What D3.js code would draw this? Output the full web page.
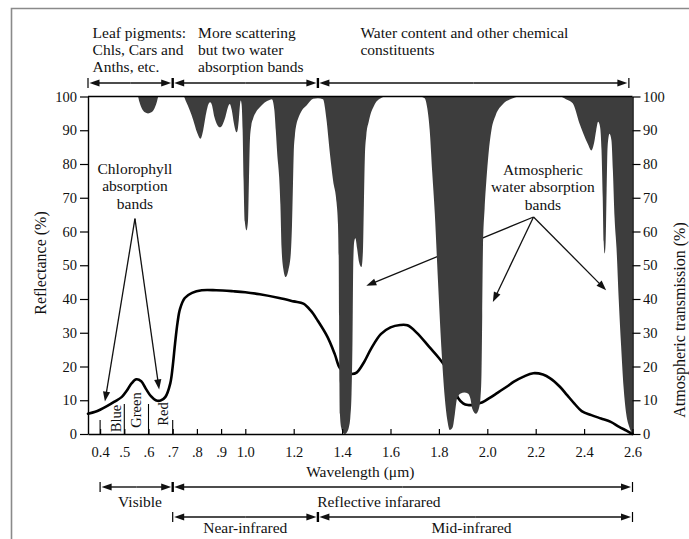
<!DOCTYPE html>
<html>
<head>
<meta charset="utf-8">
<script src="https://cdn.jsdelivr.net/npm/d3@7"></script>
<style>
  html, body { margin: 0; padding: 0; background: #fff; }
  svg { display: block; font-family: "Liberation Serif", "Times New Roman", serif; }
</style>
</head>
<body>
<svg id="chart" width="689" height="539"></svg>
<script>
// ---- axis ticks ----
const xTickValues = [0.4, 0.5, 0.6, 0.7, 0.8, 0.9, 1.0, 1.2, 1.4, 1.6, 1.8, 2.0, 2.2, 2.4, 2.6];
const xTickLabels = ["0.4", ".5", ".6", ".7", ".8", ".9", "1.0", "1.2", "1.4", "1.6", "1.8", "2.0", "2.2", "2.4", "2.6"];
const yTickValues = [0, 10, 20, 30, 40, 50, 60, 70, 80, 90, 100];

// ---- leaf reflectance (%) against wavelength (µm) ----
const reflWavelength = [0.35, 0.38, 0.40, 0.43, 0.46, 0.49, 0.51, 0.53, 0.55, 0.57, 0.59, 0.61, 0.63, 0.65, 0.67, 0.69,
  0.70, 0.71, 0.72, 0.73, 0.75, 0.78, 0.82, 0.88, 0.95, 1.00, 1.06, 1.14, 1.20, 1.24, 1.27, 1.30, 1.34, 1.37, 1.39,
  1.41, 1.44, 1.46, 1.49, 1.52, 1.56, 1.60, 1.64, 1.67, 1.71, 1.76, 1.80, 1.83, 1.86, 1.88, 1.90, 1.92, 1.94, 1.96,
  1.98, 2.01, 2.04, 2.08, 2.11, 2.15, 2.19, 2.23, 2.26, 2.30, 2.33, 2.36, 2.39, 2.43, 2.47, 2.51, 2.545, 2.575, 2.60];
const reflValue = [6.0, 6.6, 7.2, 8.3, 9.6, 11.0, 12.8, 15.0, 16.2, 15.6, 13.3, 11.2, 10.0, 9.9, 11.0, 15.0,
  20.0, 27.0, 33.0, 37.0, 40.3, 41.8, 42.6, 42.6, 42.3, 42.0, 41.4, 40.3, 39.3, 38.6, 36.6, 33.5, 28.7, 23.6, 19.6,
  18.3, 17.8, 18.2, 21.2, 25.3, 29.6, 31.6, 32.3, 32.2, 29.9, 25.8, 22.5, 19.5, 14.0, 10.6, 9.1, 8.6, 8.6, 9.0,
  9.4, 10.7, 12.1, 14.0, 15.5, 17.0, 18.0, 17.6, 16.5, 14.0, 11.5, 9.0, 6.8, 5.6, 4.6, 3.6, 2.1, 1.0, 0.0];

// ---- atmospheric transmission (%) against wavelength (µm) ----
const transWavelength = [0.35, 0.556, 0.562, 0.572, 0.585, 0.598, 0.612, 0.625, 0.635, 0.641,
  0.745, 0.755, 0.77, 0.785, 0.80, 0.815, 0.826, 0.838, 0.848, 0.855, 0.862, 0.872, 0.885, 0.895, 0.905, 0.918,
  0.93, 0.936, 0.944, 0.953, 0.96, 0.964, 0.968, 0.973, 0.978, 0.981, 0.985, 0.989, 0.993, 0.998, 1.005, 1.011,
  1.015, 1.019, 1.025, 1.032, 1.045, 1.06, 1.08, 1.10, 1.11,
  1.12, 1.126, 1.132, 1.14, 1.145, 1.15, 1.157, 1.167, 1.178, 1.188, 1.193, 1.197, 1.20, 1.205, 1.212, 1.218,
  1.235, 1.253, 1.28, 1.30, 1.321, 1.335, 1.349, 1.363, 1.377, 1.383, 1.386, 1.3875, 1.389, 1.391, 1.396, 1.404,
  1.412, 1.42, 1.428, 1.434, 1.439, 1.443, 1.446, 1.45, 1.455, 1.462, 1.47, 1.48, 1.486, 1.49, 1.494, 1.50, 1.51,
  1.52, 1.53, 1.542, 1.56, 1.58,
  1.72, 1.741, 1.752, 1.762, 1.772, 1.783, 1.796, 1.81, 1.824, 1.835, 1.845, 1.857, 1.866, 1.875, 1.89, 1.905,
  1.92, 1.93, 1.938, 1.953, 1.965, 1.972, 1.976, 1.979, 1.982, 1.989, 1.996, 2.005, 2.017, 2.035, 2.065, 2.10, 2.134,
  2.30, 2.325, 2.353, 2.381, 2.415, 2.43, 2.442, 2.45, 2.458, 2.466, 2.472, 2.477, 2.481, 2.485, 2.489, 2.493,
  2.497, 2.505, 2.513, 2.519, 2.526, 2.534, 2.543, 2.553, 2.563, 2.574, 2.587, 2.60];
const transValue = [100, 100, 98.5, 96.5, 95.3, 95, 95.3, 96.5, 98.5, 100,
  100, 98.5, 96, 93, 89.5, 87.5, 90, 95, 97.8, 98.3, 97.5, 94, 91.5, 90.9, 91.5, 94,
  97.2, 97.8, 96, 92, 89.8, 89.4, 90, 93, 97.5, 98.8, 97.5, 90, 75, 63, 60.4, 63,
  75, 87, 91.5, 93.4, 95.5, 96.8, 98.2, 99, 99.2,
  96, 90, 83, 76, 68, 55, 49, 46.5, 48.5, 53.5, 62, 74, 83, 88.5, 92, 93.4,
  96, 97.3, 99.3, 99.5, 99.2, 93.4, 83.5, 75, 68.7, 62, 52, 35, 15, 6, 2, 0.4,
  0, 0.5, 2, 5, 12, 28, 50, 57, 58, 55, 51, 49.5, 54, 68, 82, 88.5, 92.5,
  95.3, 97, 98.5, 99.5, 100,
  100, 99.5, 96.5, 90, 78, 65.4, 45.6, 25.8, 11, 4, 1.2, 2, 6, 10.5, 12, 12.3,
  12, 10.5, 7.5, 6, 7.5, 11, 18, 35, 55, 67, 75, 83, 90, 94.5, 97.8, 99.3, 100,
  100, 99.2, 98, 92, 86, 84, 86.5, 90, 92.5, 91, 84, 70, 57, 53.5, 57, 72,
  85, 89, 87, 78, 64, 55, 40, 26, 14, 6, 2, 0];

// ---- colour bands of the visible range ----
const colourNames = ["Blue", "Green", "Red"];
const colourEdges = [0.4, 0.5, 0.6, 0.7];

// ---- spectral regions (µm) ----
const topRegionEdges = [0.35, 0.7, 1.3, 2.585];
const topRegionText = [
  ["Leaf pigments:", "Chls, Cars and", "Anths, etc."],
  ["More scattering", "but two water", "absorption bands"],
  ["Water content and other chemical", "constituents"]
];
const visibleEdges = [0.4, 0.7, 2.6];
const visibleText = ["Visible", "Reflective infarared"];
const infraredEdges = [0.7, 1.3, 2.6];
const infraredText = ["Near-infrared", "Mid-infrared"];

// ---- callouts: label lines, arrow origin and arrow targets (µm, %) ----
const chlText = ["Chlorophyll", "absorption", "bands"];
const chlOrigin = [0.544, 63.8];
const chlTargets = [[0.42, 9.6], [0.644, 13.2]];
const waterText = ["Atmospheric", "water absorption", "bands"];
const waterOrigin = [2.191, 64.3];
const waterTargets = [[2.023, 39.1], [2.491, 42.6], [1.5, 43.9]];

// ================= drawing =================
const W = 689, H = 539;
const svg = d3.select("#chart");
const ink = "#111";
const bandFill = "#3d3d3d";

const x = d3.scaleLinear().domain([0.35, 2.6]).range([88, 632.5]);
const y = d3.scaleLinear().domain([0, 100]).range([434, 96.5]);

// outer picture border (top and left)
svg.append("path")
  .attr("d", `M11.5,${H} V8.5 H${W}`)
  .attr("fill", "none").attr("stroke", "#8a8a8a").attr("stroke-width", 1.6);

// reflectance curve
const refl = reflWavelength.map((w, i) => ({ w, v: reflValue[i] }));
const trans = transWavelength.map((w, i) => ({ w, v: transValue[i] }));

svg.append("path").datum(refl)
  .attr("d", d3.line().x(d => x(d.w)).y(d => y(d.v)).curve(d3.curveCatmullRom.alpha(0.5)))
  .attr("fill", "none").attr("stroke", "#000").attr("stroke-width", 2.6)
  .attr("stroke-linejoin", "round").attr("stroke-linecap", "round");

// arrow helper: line from p to q with a filled head at q
function arrow(g, x1, y1, x2, y2, len, half, width) {
  const dx = x2 - x1, dy = y2 - y1, L = Math.hypot(dx, dy);
  const ux = dx / L, uy = dy / L;
  const bx = x2 - ux * len, by = y2 - uy * len;
  g.append("line").attr("x1", x1).attr("y1", y1).attr("x2", bx + ux * 1).attr("y2", by + uy * 1)
    .attr("stroke", ink).attr("stroke-width", width);
  g.append("path")
    .attr("d", `M${x2},${y2}L${bx - uy * half},${by + ux * half}L${bx + uy * half},${by - ux * half}Z`)
    .attr("fill", ink);
}

// callout arrows (drawn beneath the absorption bands)
const callouts = svg.append("g");
chlTargets.forEach(t => arrow(callouts, x(chlOrigin[0]), y(chlOrigin[1]), x(t[0]), y(t[1]), 10, 3.6, 1.3));
waterTargets.forEach(t => arrow(callouts, x(waterOrigin[0]), y(waterOrigin[1]), x(t[0]), y(t[1]), 10, 3.6, 1.3));

// atmospheric absorption hanging from the 100 % line
svg.append("path").datum(trans)
  .attr("d", d3.area().x(d => x(d.w)).y0(y(100)).y1(d => y(d.v)).curve(d3.curveMonotoneX))
  .attr("fill", bandFill);

// plot frame top
svg.append("line").attr("x1", x(0.35)).attr("x2", x(2.6)).attr("y1", y(100)).attr("y2", y(100))
  .attr("stroke", "#000").attr("stroke-width", 1.4);

// axes
function styleAxis(g, size) {
  g.selectAll("path.domain").attr("stroke", "#000").attr("stroke-width", 1.4);
  g.selectAll(".tick line").attr("stroke", "#000").attr("stroke-width", 1.2);
  g.selectAll(".tick text").attr("fill", ink).style("font-size", size + "px")
    .style("font-family", '"Liberation Serif", "Times New Roman", serif');
}

const gx = svg.append("g").attr("transform", `translate(0,${y(0)})`)
  .call(d3.axisBottom(x).tickValues(xTickValues)
    .tickFormat(d => xTickLabels[xTickValues.indexOf(d)])
    .tickSizeInner(-5).tickSizeOuter(0).tickPadding(12.5));
styleAxis(gx, 14.5);

const gyl = svg.append("g").attr("transform", `translate(${x(0.35)},0)`)
  .call(d3.axisLeft(y).tickValues(yTickValues).tickSizeInner(8).tickSizeOuter(0).tickPadding(3));
styleAxis(gyl, 14.5);

const gyr = svg.append("g").attr("transform", `translate(${x(2.6)},0)`)
  .call(d3.axisRight(y).tickValues(yTickValues).tickSizeInner(8).tickSizeOuter(0).tickPadding(2.5));
styleAxis(gyr, 14.5);

// colour band separators and labels
const colourG = svg.append("g");
colourEdges.forEach((e, i) => {
  const inner = i > 0 && i < colourEdges.length - 1;
  colourG.append("line").attr("x1", x(e)).attr("x2", x(e))
    .attr("y1", y(0)).attr("y2", y(0) - (inner ? 30 : 14))
    .attr("stroke", "#000").attr("stroke-width", 1.1);
});
const colourShift = [9, 5, 7];
const colourMid = [418.5, 410, 414];
colourNames.forEach((name, i) => {
  const cx = x((colourEdges[i] + colourEdges[i + 1]) / 2) + colourShift[i];
  colourG.append("text")
    .attr("transform", `translate(${cx},${colourMid[i]}) rotate(-90)`)
    .attr("text-anchor", "middle").attr("fill", ink).style("font-size", "14.5px")
    .text(name);
});

// axis titles
svg.append("text").attr("transform", `translate(46,263) rotate(-90)`)
  .attr("text-anchor", "middle").attr("fill", ink).style("font-size", "16px")
  .text("Reflectance (%)");
svg.append("text").attr("transform", `translate(685,320) rotate(-90)`)
  .attr("text-anchor", "middle").attr("fill", ink).style("font-size", "16px")
  .text("Atmospheric transmission (%)");
svg.append("text").attr("x", (x(0.35) + x(2.6)) / 2).attr("y", 477)
  .attr("text-anchor", "middle").attr("fill", ink).style("font-size", "15.5px")
  .text("Wavelength (μm)");

// region span arrows
function spanRow(edges, yy) {
  const g = svg.append("g");
  for (let i = 0; i < edges.length - 1; i++) {
    const a = x(edges[i]) + 1.5, b = x(edges[i + 1]) - 1.5;
    arrow(g, (a + b) / 2, yy, a, yy, 10, 3.6, 1.4);
    arrow(g, (a + b) / 2, yy, b, yy, 10, 3.6, 1.4);
  }
  edges.forEach((e, i) => {
    const inner = i > 0 && i < edges.length - 1;
    g.append("line").attr("x1", x(e)).attr("x2", x(e)).attr("y1", yy - 5).attr("y2", yy + 5)
      .attr("stroke", "#000").attr("stroke-width", inner ? 2.4 : 1.2);
  });
}
spanRow(topRegionEdges, 83);
spanRow(visibleEdges, 487);
spanRow(infraredEdges, 517);

// region texts above the plot
const topTextStart = [0.369, 0.805, 1.476];
topRegionText.forEach((lines, i) => {
  const t = svg.append("text").attr("fill", ink).style("font-size", "15.5px");
  lines.forEach((s, j) => {
    t.append("tspan").attr("x", x(topTextStart[i])).attr("y", 38 + j * 16.8).text(s);
  });
});

// region texts under the axis
const visibleTextAt = [0.565, 1.552];
visibleText.forEach((s, i) => {
  svg.append("text").attr("x", x(visibleTextAt[i])).attr("y", 507)
    .attr("text-anchor", "middle").attr("fill", ink).style("font-size", "15.5px").text(s);
});
const infraredTextAt = [1.0, 1.935];
infraredText.forEach((s, i) => {
  svg.append("text").attr("x", x(infraredTextAt[i])).attr("y", 533)
    .attr("text-anchor", "middle").attr("fill", ink).style("font-size", "15.5px").text(s);
});

// callout labels
function callLabel(lines, cx, y0) {
  const t = svg.append("text").attr("text-anchor", "middle").attr("fill", ink).style("font-size", "15.5px");
  lines.forEach((s, j) => t.append("tspan").attr("x", cx).attr("y", y0 + j * 17.3).text(s));
}
callLabel(chlText, x(0.544), 174);
callLabel(waterText, x(2.23), 175);
</script>
</body>
</html>
